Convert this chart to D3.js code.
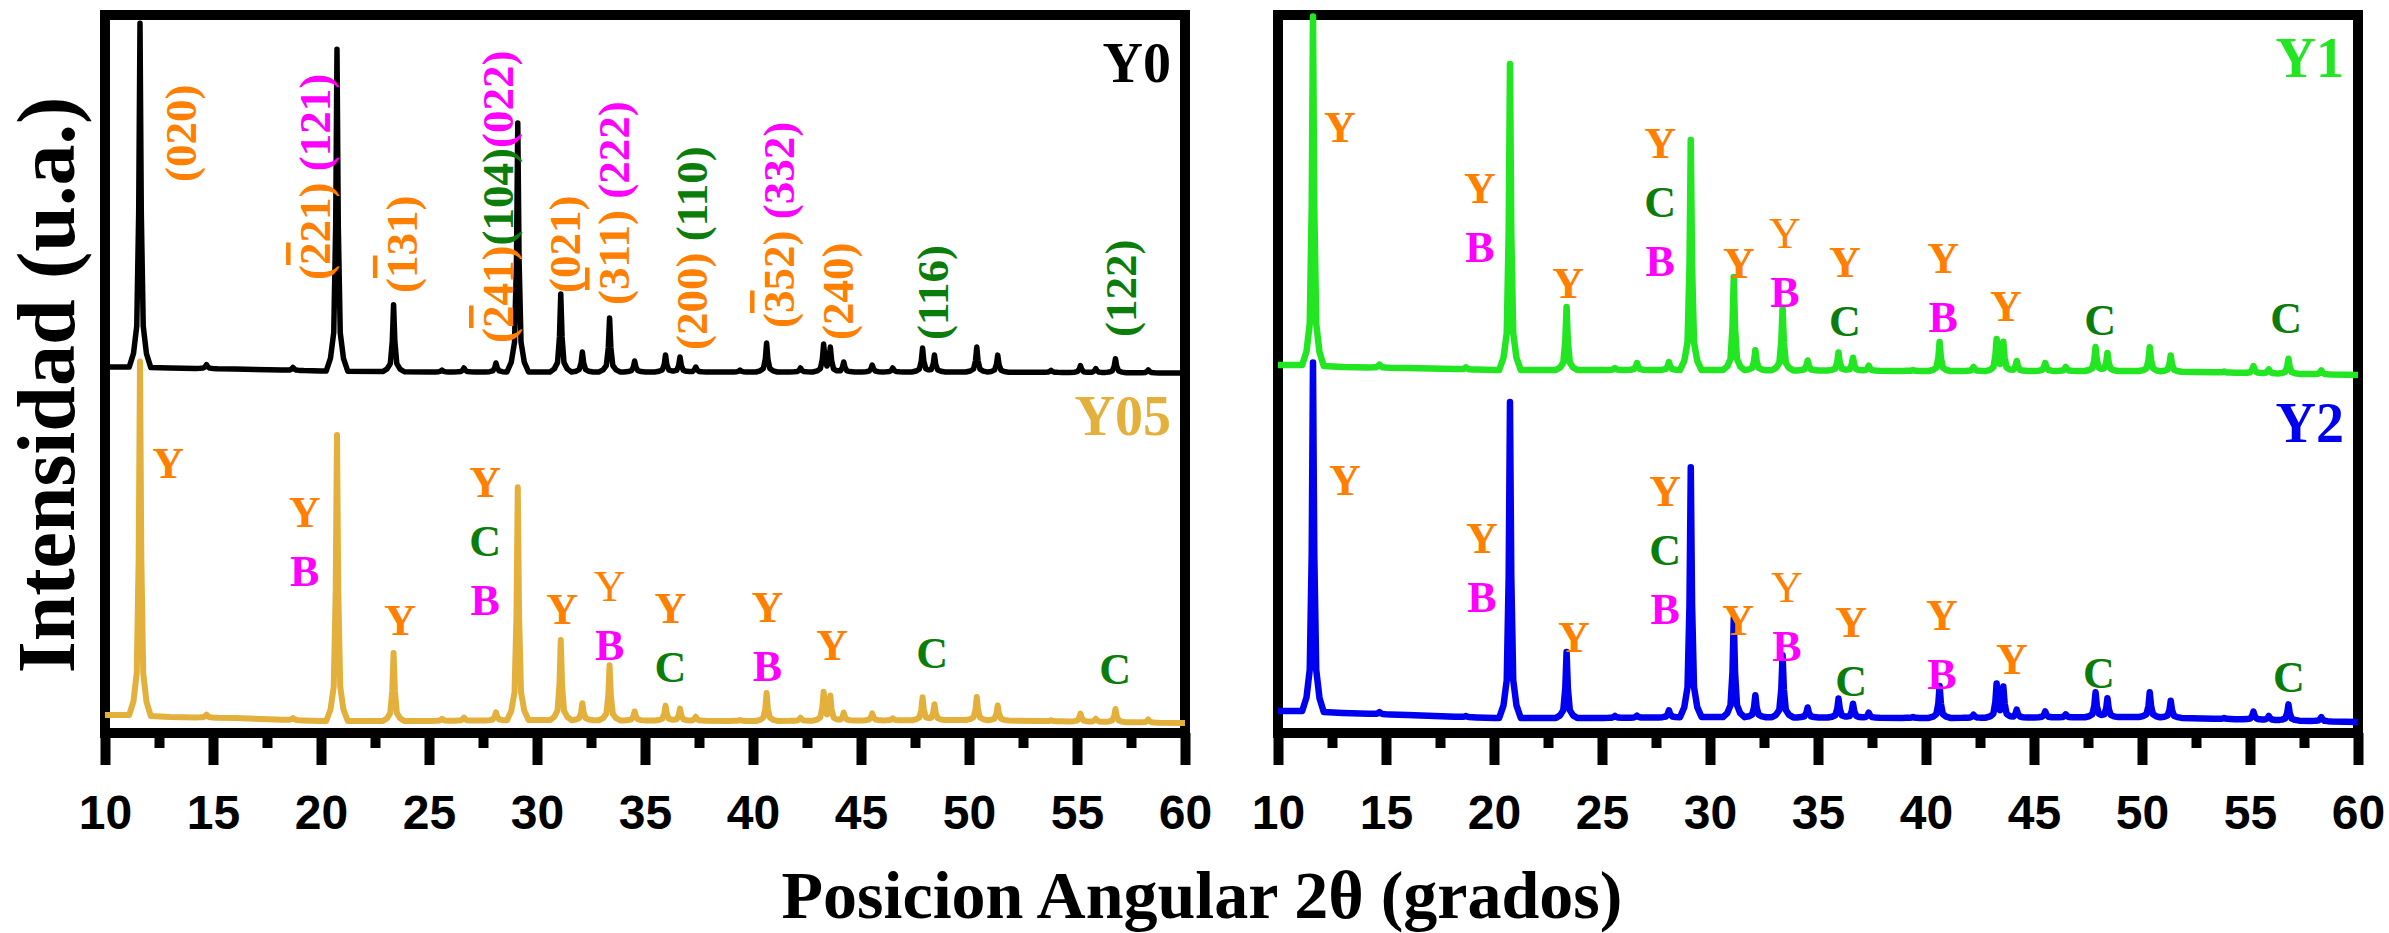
<!DOCTYPE html>
<html>
<head>
<meta charset="utf-8">
<script src="https://cdn.jsdelivr.net/npm/d3@7"></script>
<style>
  body { margin: 0; background: #fff; }
  svg { display: block; }
</style>
</head>
<body>
<div id="chart"></div>
<script>
// XRD patterns, two panels: (Y0, Y05) and (Y1, Y2). Intensities in arbitrary units.

// peak positions shared by all four samples (2θ, degrees)
const TWO_THETA = [11.62, 14.7, 18.7, 20.74, 23.36, 25.6, 26.62, 28.1, 29.11, 31.1, 32.1, 33.36,
  34.52, 35.95, 36.62, 37.35, 39.4, 40.63, 42.2, 43.27, 43.58, 44.2, 45.52, 46.47, 47.85, 48.4,
  50.36, 51.33, 53.8, 55.16, 55.87, 56.78, 58.3];

// net peak heights above background, one value per TWO_THETA entry
const Y0  = [344, 4, 3, 322, 67, 2, 4, 9, 249, 78, 20, 54, 11, 17, 15, 5, 2, 29, 4, 27, 24, 10, 7, 4, 24, 17, 25, 17, 2, 7, 4, 14, 3];
const Y05 = [354, 3, 2, 286, 68, 2, 3, 8, 233, 80, 17, 55, 9, 15, 12, 4, 1, 28, 3, 28, 24, 8, 7, 2, 23, 16, 23, 15, 1, 8, 3, 13, 3];
const Y1  = [349, 3, 2, 306, 63, 2, 7, 8, 230, 93, 20, 62, 10, 18, 13, 5, 1, 29, 4, 31, 28, 10, 8, 4, 24, 18, 24, 16, 1, 7, 4, 15, 4];
const Y2  = [349, 2, 1, 316, 66, 2, 2, 7, 250, 99, 22, 62, 10, 19, 14, 5, 1, 32, 3, 33, 30, 8, 6, 3, 25, 19, 25, 17, 1, 8, 4, 16, 4];

// background level (includes the stacking offset of each pattern)
const BG_TWO_THETA = [10, 11, 13, 16, 20, 25, 30, 40, 50, 60];
const BG_Y0  = [366, 366, 365, 364, 362, 361, 361, 361, 361, 360];
const BG_Y05 = [18, 18, 16, 15, 12, 12, 13, 12, 13, 10];
const BG_Y1  = [368, 368, 366, 365, 363, 363, 363, 362, 362, 358];
const BG_Y2  = [22, 22, 20, 18, 15, 15, 16, 15, 16, 11];

const X_TICKS = [10, 15, 20, 25, 30, 35, 40, 45, 50, 55, 60];
const X_MINOR = [12.5, 17.5, 22.5, 27.5, 32.5, 37.5, 42.5, 47.5, 52.5, 57.5];

// Miller indices over Y0: [2θ, intensity at start of text, [text, phase]...]; '-' = overbar on next digit
const HKL_Y0 = [
  [14.21, 551, [['(020)', 'Y']]],
  [20.42, 453, [['(-221)', 'Y'], [' (121)', 'B']]],
  [24.44, 440, [['(-131)', 'Y']]],
  [28.89, 390, [['(-241)', 'Y'], ['(104)', 'C'], ['(022)', 'B']]],
  [31.99, 440, [['(021)', 'Y']]],
  [34.26, 428, [['(-311)', 'Y'], [' (222)', 'B']]],
  [37.87, 383, [['(200)', 'Y'], [' (110)', 'C']]],
  [41.90, 405, [['(-352)', 'Y'], [' (332)', 'B']]],
  [44.63, 393, [['(240)', 'Y']]],
  [49.03, 393, [['(116)', 'C']]],
  [57.73, 396, [['(122)', 'C']]],
];

// phase letters stacked over peaks: [2θ, intensity of top letter, letters]; 'y' = light Y
const MARKS_Y05 = [[12.92, 255, 'Y'], [19.24, 206, 'YB'], [23.66, 98, 'Y'], [27.6, 236, 'YCB'],
  [31.16, 109, 'Y'], [33.36, 132, 'yB'], [36.18, 110, 'YC'], [40.67, 111, 'YB'],
  [43.66, 73, 'Y'], [48.29, 65, 'C'], [56.76, 49, 'C']];
const MARKS_Y1 = [[12.87, 591, 'Y'], [19.35, 530, 'YB'], [23.43, 435, 'Y'], [27.69, 575, 'YCB'],
  [31.34, 455, 'Y'], [33.47, 485, 'yB'], [36.25, 456, 'YC'], [40.79, 460, 'YB'],
  [43.7, 412, 'Y'], [48.06, 398, 'C'], [56.67, 400, 'C']];
const MARKS_Y2 = [[13.1, 238, 'Y'], [19.44, 180, 'YB'], [23.7, 81, 'Y'], [27.92, 227, 'YCB'],
  [31.3, 98, 'Y'], [33.56, 131, 'yB'], [36.53, 96, 'YC'], [40.74, 103, 'YB'],
  [43.98, 59, 'Y'], [48.0, 45, 'C'], [56.8, 41, 'C']];

const PHASE_COLOR = { Y: '#FF8000', B: '#FF00FF', C: '#0A7D0A' };

// drawing shape of one reflection (offset in degrees -> fraction of peak height)
const PROFILE_OFFSET = [-0.5, -0.3, -0.15, -0.06, 0, 0.06, 0.15, 0.3, 0.5];
const PROFILE_SHAPE  = [0, 0.04, 0.12, 0.45, 1, 0.45, 0.12, 0.04, 0];

const W = 2389, H = 933;
const TOP = 15, BOTTOM = 733;
const SERIF = '"Liberation Serif", "Times New Roman", serif';
const SANS = '"Liberation Sans Narrow", "Arial Narrow", "Liberation Sans", Arial, sans-serif';

const PANELS = [
  { x0: 105, x1: 1185,
    traces: [
      { name: 'Y05', peaks: Y05, bg: BG_Y05, color: '#E3B03C', sw: 6, nameY: 435, marks: MARKS_Y05 },
      { name: 'Y0', peaks: Y0, bg: BG_Y0, color: '#000000', sw: 5.5, nameY: 82, hkl: HKL_Y0 },
    ] },
  { x0: 1278, x1: 2358,
    traces: [
      { name: 'Y2', peaks: Y2, bg: BG_Y2, color: '#0000F0', sw: 6.5, nameY: 442, marks: MARKS_Y2 },
      { name: 'Y1', peaks: Y1, bg: BG_Y1, color: '#22E622', sw: 6.5, nameY: 77, marks: MARKS_Y1 },
    ] },
];

const svg = d3.select('#chart').append('svg')
  .attr('width', W).attr('height', H)
  .attr('viewBox', `0 0 ${W} ${H}`);

const y = d3.scaleLinear().domain([0, BOTTOM - TOP]).range([BOTTOM, TOP]);
const prof = d3.scaleLinear().domain(PROFILE_OFFSET).range(PROFILE_SHAPE).clamp(true);

function tracePoints(peaks, bgLevels) {
  const bg = d3.scaleLinear().domain(BG_TWO_THETA).range(bgLevels);
  const xs = new Set(BG_TWO_THETA);
  TWO_THETA.forEach(p => PROFILE_OFFSET.forEach(o => xs.add(+(p + o).toFixed(3))));
  return Array.from(xs).filter(t => t >= 10 && t <= 60).sort(d3.ascending)
    .map(t => [t, bg(t) + d3.sum(TWO_THETA, (p, i) => peaks[i] * prof(t - p))]);
}

function addRun(txt, s, fill) {
  let buf = '';
  const flush = () => { if (buf) txt.append('tspan').attr('fill', fill).text(buf); buf = ''; };
  for (let i = 0; i < s.length; i++) {
    if (s[i] === '-') {
      flush();
      txt.append('tspan').attr('fill', fill).style('text-decoration', 'overline').text(s[++i]);
    } else buf += s[i];
  }
  flush();
}

PANELS.forEach(panel => {
  const x = d3.scaleLinear().domain([10, 60]).range([panel.x0, panel.x1]);
  const g = svg.append('g');

  // frame
  g.append('rect')
    .attr('x', panel.x0).attr('y', TOP)
    .attr('width', panel.x1 - panel.x0).attr('height', BOTTOM - TOP)
    .attr('fill', 'none').attr('stroke', '#000').attr('stroke-width', 10);

  // bottom axis: major + minor ticks, outward
  const major = g.append('g').attr('transform', `translate(0,${BOTTOM})`)
    .call(d3.axisBottom(x).tickValues(X_TICKS).tickSize(32).tickPadding(30).tickFormat(d3.format('d')));
  major.select('.domain').remove();
  major.selectAll('line').attr('stroke', '#000').attr('stroke-width', 10);
  major.selectAll('text')
    .attr('font-family', SANS).attr('font-size', 48).attr('font-weight', 700).attr('fill', '#000');

  const minor = g.append('g').attr('transform', `translate(0,${BOTTOM})`)
    .call(d3.axisBottom(x).tickValues(X_MINOR).tickSize(15).tickFormat(''));
  minor.select('.domain').remove();
  minor.selectAll('line').attr('stroke', '#000').attr('stroke-width', 10);

  const line = d3.line().x(d => x(d[0])).y(d => y(d[1]));

  panel.traces.forEach(tr => {
    g.append('path')
      .attr('d', line(tracePoints(tr.peaks, tr.bg)))
      .attr('fill', 'none')
      .attr('stroke', tr.color)
      .attr('stroke-width', tr.sw)
      .attr('stroke-linejoin', 'round');
  });

  panel.traces.forEach(tr => {
    // sample name, top right of its pattern
    g.append('text')
      .attr('x', panel.x1 - 14).attr('y', tr.nameY)
      .attr('text-anchor', 'end')
      .attr('font-family', SERIF).attr('font-weight', 700).attr('font-size', 56)
      .attr('fill', tr.color)
      .text(tr.name);

    (tr.marks || []).forEach(([t, v, letters]) => {
      letters.split('').forEach((c, k) => {
        g.append('text')
          .attr('x', x(t)).attr('y', y(v) + k * 59)
          .attr('text-anchor', 'middle')
          .attr('font-family', SERIF).attr('font-size', 44)
          .attr('font-weight', c === 'y' ? 400 : 700)
          .attr('fill', PHASE_COLOR[c.toUpperCase()])
          .text(c.toUpperCase());
      });
    });

    (tr.hkl || []).forEach(([t, v, parts]) => {
      const txt = g.append('text')
        .attr('transform', `translate(${x(t)},${y(v)}) rotate(-90)`)
        .attr('font-family', SERIF).attr('font-weight', 700).attr('font-size', 45)
        .style('white-space', 'pre');
      parts.forEach(([s, ph]) => addRun(txt, s, PHASE_COLOR[ph]));
    });
  });
});

// axis titles
svg.append('text')
  .attr('transform', 'translate(74,385) rotate(-90)')
  .attr('text-anchor', 'middle')
  .attr('font-family', SERIF).attr('font-weight', 700).attr('font-size', 82)
  .text('Intensidad (u.a.)');

svg.append('text')
  .attr('x', 1202).attr('y', 918)
  .attr('text-anchor', 'middle')
  .attr('font-family', SERIF).attr('font-weight', 700).attr('font-size', 68)
  .text('Posicion Angular 2θ (grados)');
</script>
</body>
</html>
